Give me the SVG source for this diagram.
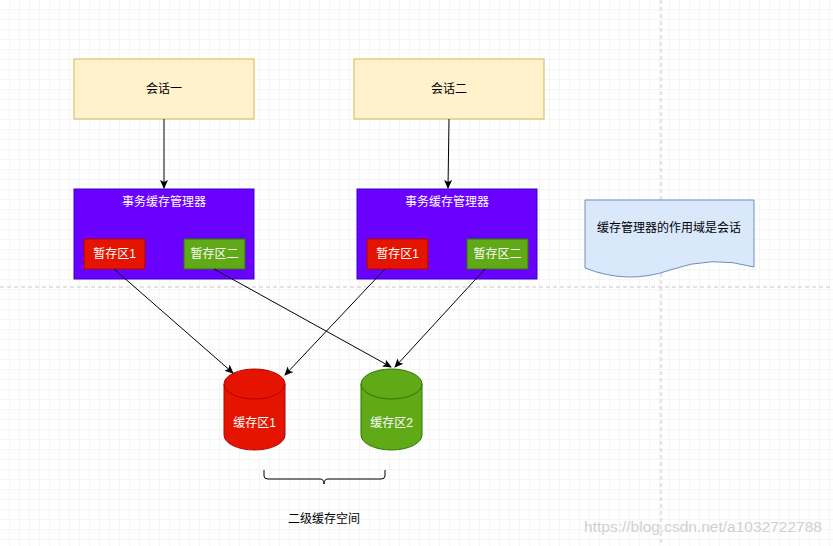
<svg xmlns="http://www.w3.org/2000/svg" width="833" height="546" viewBox="0 0 833 546">
<defs>
<pattern id="g" width="10" height="10" patternUnits="userSpaceOnUse"><path d="M10 0V10H0" fill="none" stroke="#ebebeb" stroke-width="1"/></pattern>
<marker id="a" markerWidth="10" markerHeight="10" refX="8" refY="5" orient="auto" markerUnits="userSpaceOnUse"><path d="M0 1L9 5L0 9L2 5Z" fill="#000"/></marker>
<style>
text{font-family:"Liberation Sans","Noto Sans CJK SC",sans-serif;font-size:12px;text-anchor:middle}
.w{fill:#fff}
.c{stroke:#000;stroke-width:1;fill:none;marker-end:url(#a)}
</style>
</defs>
<rect width="833" height="546" fill="#fff"/>
<rect width="833" height="546" fill="url(#g)"/>
<line x1="661" y1="0" x2="661" y2="546" stroke="#c8c8c8" stroke-dasharray="4 3"/>
<line x1="0" y1="287" x2="833" y2="287" stroke="#c8c8c8" stroke-dasharray="4 3"/>
<g id="s1"><rect x="74" y="59" width="180" height="60" fill="#fff2cc" stroke="#d6b656"/><text x="164" y="93">会话一</text></g>
<g id="s2"><rect x="354" y="59" width="190" height="60" fill="#fff2cc" stroke="#d6b656"/><text x="449" y="93">会话二</text></g>
<g id="m1"><rect x="74" y="189" width="180" height="90" fill="#6a00ff" stroke="#3700cc"/><text class="w" x="164" y="206">事务缓存管理器</text>
<rect x="84" y="239" width="61" height="30" fill="#e51400" stroke="#b20000"/><text class="w" x="114.5" y="258">暂存区1</text>
<rect x="184" y="239" width="61" height="30" fill="#60a917" stroke="#2d7600"/><text class="w" x="214.5" y="258">暂存区二</text></g>
<g id="m2"><rect x="357" y="189" width="180" height="90" fill="#6a00ff" stroke="#3700cc"/><text class="w" x="447" y="206">事务缓存管理器</text>
<rect x="367" y="239" width="61" height="30" fill="#e51400" stroke="#b20000"/><text class="w" x="397.5" y="258">暂存区1</text>
<rect x="467" y="239" width="61" height="30" fill="#60a917" stroke="#2d7600"/><text class="w" x="497.5" y="258">暂存区二</text></g>
<g id="c1"><path d="M224 384A30.5 15 0 0 1 285 384V435A30.5 15 0 0 1 224 435Z" fill="#e51400" stroke="#b20000"/><path d="M224 384A30.5 15 0 0 0 285 384" fill="none" stroke="#b20000"/><text class="w" x="254.5" y="427">缓存区1</text></g>
<g id="c2"><path d="M361 384A30.5 15 0 0 1 422 384V435A30.5 15 0 0 1 361 435Z" fill="#60a917" stroke="#2d7600"/><path d="M361 384A30.5 15 0 0 0 422 384" fill="none" stroke="#2d7600"/><text class="w" x="391.5" y="427">缓存区2</text></g>
<g id="note"><path d="M585 200H754V267Q712 255 670 270Q628 285 585 268Z" fill="#dae8fc" stroke="#6c8ebf"/><text x="669" y="232">缓存管理器的作用域是会话</text></g>
<g id="brace"><path d="M264 470V476Q264 479 268 479H320Q324 479 324 484Q324 479 328 479H381Q385 479 385 476V470" fill="none" stroke="#000"/><text x="324" y="523">二级缓存空间</text></g>
<g id="edges">
<line class="c" x1="164" y1="119" x2="164" y2="188"/>
<line class="c" x1="449" y1="119" x2="448" y2="188"/>
<line class="c" x1="114" y1="269" x2="233" y2="373"/>
<line class="c" x1="214" y1="269" x2="391" y2="367"/>
<line class="c" x1="385" y1="269" x2="285" y2="375"/>
<line class="c" x1="485" y1="269" x2="395" y2="367"/>
</g>
<text x="703" y="532" style="font-size:15.5px;fill:#d0d0d0">https://blog.csdn.net/a1032722788</text>
</svg>
